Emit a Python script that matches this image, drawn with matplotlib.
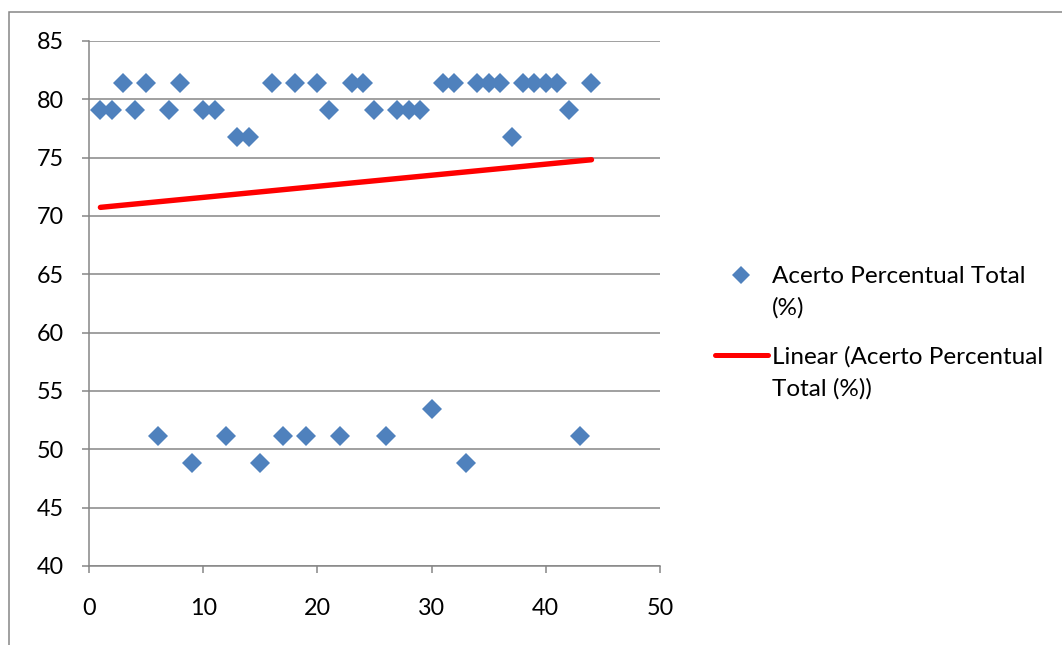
import numpy as np
import matplotlib
matplotlib.use("Agg")
import matplotlib.pyplot as plt
from matplotlib.lines import Line2D
from matplotlib.patches import Rectangle

plt.rcParams['font.family'] = ['Lato', 'DejaVu Sans']

# Data
x_vals = list(range(1, 45))
acerto = [79.07, 79.07, 81.40, 79.07, 81.40, 51.16, 79.07, 81.40, 48.84, 79.07,
          79.07, 51.16, 76.74, 76.74, 48.84, 81.40, 51.16, 81.40, 51.16, 81.40,
          79.07, 51.16, 81.40, 81.40, 79.07, 51.16, 79.07, 79.07, 79.07, 53.49,
          81.40, 81.40, 48.84, 81.40, 81.40, 81.40, 76.74, 81.40, 81.40, 81.40,
          81.40, 79.07, 51.16, 81.40]
x_ticks = [0, 10, 20, 30, 40, 50]
y_ticks = [40, 45, 50, 55, 60, 65, 70, 75, 80, 85]
label_series = "Acerto Percentual Total\n(%)"
label_trend = "Linear (Acerto Percentual\nTotal (%))"

W, H = 1062, 645
fig = plt.figure(figsize=(W / 100, H / 100), dpi=100)

def fx(px):
    return px / W

def fy(py):
    return 1 - py / H

grid_c = '#868686'
blue = '#4F81BD'

# outer chart border
fig.add_artist(Rectangle((fx(9), fy(700)), fx(1100), (700 - 12) / H,
                         transform=fig.transFigure, fill=False,
                         edgecolor=grid_c, linewidth=1.1))

ax = fig.add_axes([fx(89), fy(566), fx(660 - 89), (566 - 41) / H])
ax.set_xlim(0, 50)
ax.set_ylim(40, 85)
ax.set_xticks(x_ticks)
ax.set_yticks(y_ticks)

xa = np.array(x_vals, dtype=float)
ya = np.array(acerto)
ax.plot(xa, ya, linestyle='none', marker='D', markersize=10.2,
        color=blue, markeredgewidth=0, zorder=3, clip_on=False)
coef = np.polyfit(xa, ya, 1)
xt = np.array([xa.min(), xa.max()])
ax.plot(xt, np.polyval(coef, xt), color='#FF0000', linewidth=3.9,
        solid_capstyle='round', zorder=4)

ax.grid(axis='y', color=grid_c, linewidth=1.1)
ax.set_axisbelow(True)
for s in ['top', 'right']:
    ax.spines[s].set_visible(False)
for s in ['left', 'bottom']:
    ax.spines[s].set_color(grid_c)
    ax.spines[s].set_linewidth(1.1)
ax.tick_params(axis='both', direction='out', length=5, width=1.1,
               color=grid_c, labelsize=16.8, labelcolor='black')
ax.tick_params(axis='y', pad=13)
ax.tick_params(axis='x', pad=18)

# legend drawn in figure coords
fig.add_artist(Line2D([fx(741)], [fy(275)], marker='D', markersize=8.7,
                      color=blue, markeredgewidth=0, transform=fig.transFigure))
fig.add_artist(Line2D([fx(715), fx(768)], [fy(355), fy(355)], color='#FF0000',
                      linewidth=3.6, solid_capstyle='round',
                      transform=fig.transFigure))
fs = 17.5
fig.text(fx(772), fy(266), label_series, fontsize=fs, va='top',
         ha='left', linespacing=1.6)
fig.text(fx(772), fy(346), label_trend, fontsize=fs, va='top',
         ha='left', linespacing=1.6)

fig.savefig('out.png', dpi=100)
